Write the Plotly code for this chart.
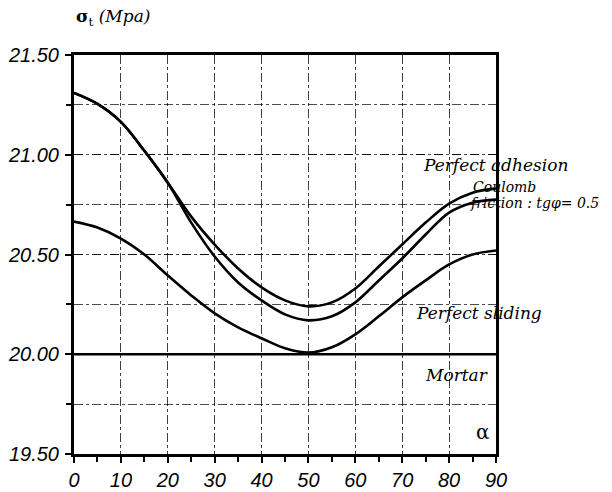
import plotly.graph_objects as go

alpha = [0, 5, 10, 15, 20, 25, 30, 35, 40, 45, 50, 55, 60, 65, 70, 75, 80, 85, 90]
perfect_adhesion = [21.31, 21.255, 21.165, 21.02, 20.86, 20.69, 20.55, 20.43, 20.335, 20.27, 20.24,
                    20.26, 20.33, 20.44, 20.55, 20.66, 20.755, 20.81, 20.83]
coulomb_friction = [21.31, 21.255, 21.165, 21.02, 20.86, 20.66, 20.49, 20.36, 20.27, 20.20, 20.17,
                    20.19, 20.26, 20.37, 20.48, 20.60, 20.71, 20.76, 20.775]
perfect_sliding = [20.665, 20.635, 20.58, 20.50, 20.395, 20.295, 20.205, 20.135, 20.08, 20.03, 20.008,
                   20.035, 20.10, 20.19, 20.285, 20.37, 20.45, 20.50, 20.52]
mortar = [20.00] * len(alpha)

y_ticks = [19.50, 20.00, 20.50, 21.00, 21.50]
x_ticks = [0, 10, 20, 30, 40, 50, 60, 70, 80, 90]

fig = go.Figure()
for ys in (perfect_adhesion, coulomb_friction, perfect_sliding):
    fig.add_trace(go.Scatter(x=alpha, y=ys, mode="lines",
                             line=dict(color="black", width=2.6, shape="spline", smoothing=1.0),
                             showlegend=False, hoverinfo="skip"))
fig.add_trace(go.Scatter(x=alpha, y=mortar, mode="lines", line=dict(color="black", width=2.6),
                         showlegend=False, hoverinfo="skip"))

tickfont = dict(family="Liberation Sans", size=20, color="black")
labfont = dict(family="DejaVu Serif", size=17, color="black", style="italic")

fig.update_layout(
    width=612, height=492,
    margin=dict(l=74, r=116, t=55, b=38, autoexpand=False),
    paper_bgcolor="white", plot_bgcolor="white",
    xaxis=dict(range=[0, 90], tickvals=x_ticks, ticktext=["<i>%d</i>" % v for v in x_ticks],
               showline=True, linewidth=2.5, linecolor="black", mirror=True,
               ticks="outside", ticklen=6, tickwidth=2, tickcolor="black",
               showgrid=True, gridcolor="rgba(0,0,0,0.75)", gridwidth=1, griddash="dashdot",
               minor=dict(dtick=5, ticks="outside", ticklen=5, tickwidth=2, tickcolor="black", showgrid=False),
               tickfont=tickfont, zeroline=False, ticklabelstandoff=0, automargin=False),
    yaxis=dict(range=[19.5, 21.5], tickvals=y_ticks, ticktext=["<i>%.2f</i>" % v for v in y_ticks],
               showline=True, linewidth=3, linecolor="black", mirror=True,
               ticks="outside", ticklen=6, tickwidth=2, tickcolor="black",
               showgrid=True, gridcolor="rgba(0,0,0,0.8)", gridwidth=1.2, griddash="dash",
               minor=dict(dtick=0.25, ticks="outside", ticklen=5, tickwidth=2, tickcolor="black",
                          showgrid=True, gridcolor="rgba(0,0,0,0.7)", gridwidth=1, griddash="dashdot"),
               tickfont=tickfont, zeroline=False, ticklabelstandoff=2, automargin=False),
)

ann = [
    dict(x=0.0, y=1.093, text="<b>σ</b><sub>t</sub> <i>(Mpa)</i>", xanchor="left", yanchor="middle",
         font=dict(family="DejaVu Serif", size=17, color="black")),
    dict(x=0.998, y=0.724, text="Perfect adhesion", xanchor="center", yanchor="middle", font=labfont),
    dict(x=0.94, y=0.668, text="Coulomb", xanchor="left", yanchor="middle",
         font=dict(family="DejaVu Serif", size=14, color="black", style="italic")),
    dict(x=0.934, y=0.628, text="friction : tgφ= 0.5", xanchor="left", yanchor="middle",
         font=dict(family="DejaVu Serif", size=14, color="black", style="italic")),
    dict(x=0.96, y=0.353, text="Perfect sliding", xanchor="center", yanchor="middle", font=labfont),
    dict(x=0.986, y=0.198, text="Mortar", xanchor="right", yanchor="middle", font=labfont),
    dict(x=0.99, y=0.055, text="α", xanchor="right", yanchor="middle",
         font=dict(family="DejaVu Serif", size=20, color="black")),
]
for a in ann:
    fig.add_annotation(xref="paper", yref="paper", showarrow=False, **a)

fig.write_html("out.html")
